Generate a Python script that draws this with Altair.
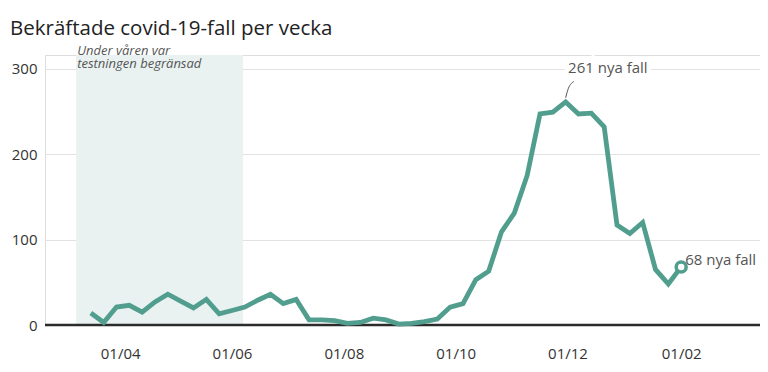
import altair as alt
import pandas as pd

# --- data ---
first_week = "2020-03-16"
cases = [14, 3, 21, 23, 15, 27, 36, 28, 20, 30,
         13, 17, 21, 29, 36, 25, 30, 6, 6, 5,
         2, 3, 8, 6, 1, 2, 4, 7, 21, 25,
         53, 63, 109, 131, 175, 247, 249, 261, 247, 248,
         232, 117, 107, 120, 65, 48, 68]
x_tick_dates = ["2020-04-01", "2020-06-01", "2020-08-01", "2020-10-01", "2020-12-01", "2021-02-01"]
y_ticks = [0, 100, 200, 300]
shade_period = ["2020-03-08", "2020-06-07"]
shade_text = "Under våren var\ntestningen begränsad"
peak_label = "261 nya fall"
last_label = "68 nya fall"

TEAL = "#519e8f"
FONT = "Open Sans"

weeks = pd.date_range(first_week, periods=len(cases), freq="7D").strftime("%Y-%m-%dT00:00:00")
df = pd.DataFrame({"vecka": weeks, "fall": cases})
last = df.tail(1)

def dt(s):
    y, m, d = [int(v) for v in s.split("-")]
    return alt.DateTime(year=y, month=m, date=d)

x_scale = alt.Scale(domain=[dt("2020-02-20"), dt("2021-03-16")])
y_scale = alt.Scale(domain=[0, 316], nice=False)

x_axis = alt.Axis(values=[dt(s) for s in x_tick_dates], format="%d/%m", title=None,
                  grid=False, domain=False, ticks=False, labelPadding=21,
                  labelFontSize=15, labelColor="#333", labelFont=FONT)
y_axis = alt.Axis(values=y_ticks, title=None, grid=True, gridColor="#e2e2e2",
                  domain=False, ticks=False, labelPadding=8,
                  labelFontSize=15, labelColor="#333", labelFont=FONT)

shade_df = pd.DataFrame({"start": [shade_period[0] + "T00:00:00"], "end": [shade_period[1] + "T00:00:00"],
                         "lo": [0], "hi": [316]})
shade = alt.Chart(shade_df).mark_rect(color="#e9f2f1").encode(
    x=alt.X("start:T", scale=x_scale, axis=x_axis),
    x2="end:T",
    y=alt.Y("lo:Q", scale=y_scale, axis=y_axis),
    y2="hi:Q",
)

zero = alt.Chart(pd.DataFrame({"v": [0]})).mark_rule(color="#2b2b2b", strokeWidth=2.5).encode(
    y=alt.Y("v:Q", scale=y_scale)
)

line = alt.Chart(df).mark_line(color=TEAL, strokeWidth=4.8, strokeJoin="miter").encode(
    x=alt.X("vecka:T", scale=x_scale),
    y=alt.Y("fall:Q", scale=y_scale),
)

dot = alt.Chart(last).mark_point(shape="circle", size=100, filled=True, fill="white",
                                 stroke=TEAL, strokeWidth=3.5, opacity=1).encode(
    x=alt.X("vecka:T", scale=x_scale),
    y=alt.Y("fall:Q", scale=y_scale),
)

last_text = alt.Chart(last).mark_text(align="left", baseline="alphabetic", dx=4, dy=-2,
                                      font=FONT, fontSize=15, color="#555").encode(
    x=alt.X("vecka:T", scale=x_scale),
    y=alt.Y("fall:Q", scale=y_scale),
    text=alt.value(last_label),
)

note_df = pd.DataFrame({"x": [shade_period[0] + "T00:00:00"], "y": [316], "t": [shade_text]})
note = alt.Chart(note_df).mark_text(align="left", baseline="alphabetic", dx=1, lineBreak="\n",
                                    lineHeight=12.5, font=FONT, fontSize=13, fontStyle="italic",
                                    color="#555").encode(
    x=alt.X("x:T", scale=x_scale),
    y=alt.Y("y:Q", scale=y_scale),
    text="t:N",
)

peak_df = pd.DataFrame({"x": ["2020-12-23T00:00:00"], "y": [295], "t": [peak_label]})
peak_halo = alt.Chart(peak_df).mark_text(align="center", baseline="alphabetic", font=FONT, fontSize=15,
                                         color="white", stroke="white", strokeWidth=9).encode(
    x=alt.X("x:T", scale=x_scale),
    y=alt.Y("y:Q", scale=y_scale),
    text="t:N",
)
peak_text = alt.Chart(peak_df).mark_text(align="center", baseline="alphabetic", font=FONT, fontSize=15,
                                         color="#555").encode(
    x=alt.X("x:T", scale=x_scale),
    y=alt.Y("y:Q", scale=y_scale),
    text="t:N",
)

conn_df = pd.DataFrame({"x": ["2020-11-30T00:00:00", "2020-12-01T12:00:00", "2020-12-04T12:00:00"],
                        "y": [266, 277, 285]})
connector = alt.Chart(conn_df).mark_line(color="#555", strokeWidth=1, interpolate="monotone").encode(
    x=alt.X("x:T", scale=x_scale),
    y=alt.Y("y:Q", scale=y_scale),
)

chart = alt.layer(shade, zero, line, dot, last_text, note, peak_halo, peak_text, connector).properties(
    width=715, height=270,
    title=alt.TitleParams("Bekräftade covid-19-fall per vecka", anchor="start", frame="group",
                          dx=-35, offset=6, font=FONT, fontSize=20.5, fontWeight="normal",
                          color="#222"),
    autosize=alt.AutoSizeParams(type="none"),
    padding={"left": 37, "top": 47, "right": 0, "bottom": 40},
).configure_view(stroke=None).configure(background="white")

chart.save("out.html", embed_options={"renderer": "svg", "actions": False})
